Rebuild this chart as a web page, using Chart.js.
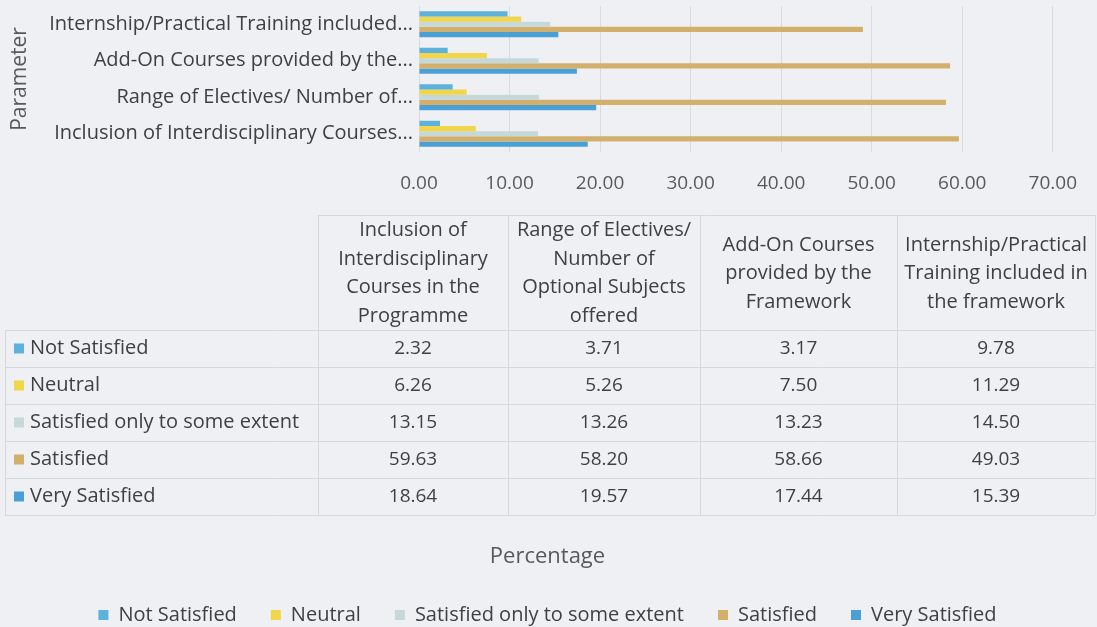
<!DOCTYPE html>
<html>
<head>
<meta charset="utf-8">
<script src="https://cdn.jsdelivr.net/npm/chart.js@4.4.1/dist/chart.umd.min.js"></script>
<style>
  html, body { margin: 0; padding: 0; background: #eff0f4; }
  #chart { display: block; }
</style>
</head>
<body>
<canvas id="chart" width="1097" height="627"></canvas>
<script>
// categories in the order of the data table (left to right)
const categories = [
  "Inclusion of Interdisciplinary Courses in the Programme",
  "Range of Electives/ Number of Optional Subjects offered",
  "Add-On Courses provided by the Framework",
  "Internship/Practical Training included in the framework"
];
// truncated labels as shown on the axis
const axisLabels = [
  "Inclusion of Interdisciplinary Courses...",
  "Range of Electives/ Number of...",
  "Add-On Courses provided by the...",
  "Internship/Practical Training included..."
];
// wrapped header text of the data table
const headerLines = [
  ["Inclusion of", "Interdisciplinary", "Courses in the", "Programme"],
  ["Range of Electives/", "Number of", "Optional Subjects", "offered"],
  ["Add-On Courses", "provided by the", "Framework"],
  ["Internship/Practical", "Training included in", "the framework"]
];

const seriesNames = ["Not Satisfied", "Neutral", "Satisfied only to some extent", "Satisfied", "Very Satisfied"];
const notSatisfied = [2.32, 3.71, 3.17, 9.78];
const neutral = [6.26, 5.26, 7.50, 11.29];
const someExtent = [13.15, 13.26, 13.23, 14.50];
const satisfied = [59.63, 58.20, 58.66, 49.03];
const verySatisfied = [18.64, 19.57, 17.44, 15.39];

const xMin = 0, xMax = 70, xStep = 10;

const colors = ["#5cb2dc", "#f1d64c", "#c6d9da", "#d3af6c", "#4a9fd5"];
const textColor = "#404040";
const fontFamily = "'Open Sans', sans-serif";

const seriesValues = [notSatisfied, neutral, someExtent, satisfied, verySatisfied];

// chart shows the last category on top
const topDown = arr => arr.slice().reverse();

const dataTable = {
  id: "dataTable",
  afterDraw(chart) {
    const ctx = chart.ctx;
    const cols = [318, 508, 700, 897, 1095];
    const left = 5;
    const headTop = 215, headBottom = 330;
    const rowH = 37;
    const bodyBottom = headBottom + rowH * seriesNames.length;

    ctx.save();
    ctx.strokeStyle = "#d6d8de";
    ctx.lineWidth = 1;
    ctx.beginPath();
    ctx.moveTo(cols[0], headTop + 0.5);
    ctx.lineTo(cols[4], headTop + 0.5);
    cols.forEach(x => {
      ctx.moveTo(x + 0.5, headTop);
      ctx.lineTo(x + 0.5, bodyBottom);
    });
    ctx.moveTo(left + 0.5, headBottom);
    ctx.lineTo(left + 0.5, bodyBottom);
    for (let r = 0; r <= seriesNames.length; r++) {
      const y = headBottom + r * rowH + 0.5;
      ctx.moveTo(left, y);
      ctx.lineTo(cols[4], y);
    }
    ctx.stroke();

    ctx.fillStyle = textColor;
    ctx.font = "20px " + fontFamily;
    ctx.textAlign = "center";
    ctx.textBaseline = "middle";

    // header text
    const lineH = 28.5;
    const headMid = (headTop + headBottom) / 2 + 1;
    headerLines.forEach((lines, c) => {
      const cx = (cols[c] + cols[c + 1]) / 2;
      const y0 = headMid - (lines.length - 1) * lineH / 2;
      lines.forEach((t, i) => ctx.fillText(t, cx, y0 + i * lineH));
    });

    // rows
    seriesNames.forEach((name, r) => {
      const cy = headBottom + r * rowH + rowH / 2;
      ctx.fillStyle = colors[r];
      ctx.fillRect(14, cy - 5, 10, 10);
      ctx.fillStyle = textColor;
      ctx.font = "20px " + fontFamily;
      ctx.textAlign = "left";
      ctx.fillText(name, 30, cy);
      ctx.textAlign = "center";
      ctx.font = "19px " + fontFamily;
      seriesValues[r].forEach((v, c) => {
        const cx = (cols[c] + cols[c + 1]) / 2;
        ctx.fillText(v.toFixed(2), cx, cy);
      });
    });
    ctx.restore();
  }
};

new Chart(document.getElementById("chart"), {
  type: "bar",
  data: {
    labels: topDown(categories),
    datasets: seriesNames.map((name, i) => ({
      label: name,
      data: topDown(seriesValues[i]),
      backgroundColor: colors[i],
      borderWidth: 0,
      barPercentage: 1,
      categoryPercentage: 0.71
    }))
  },
  options: {
    indexAxis: "y",
    responsive: false,
    animation: false,
    layout: { padding: { top: 6, left: 30, right: 32, bottom: -8 } },
    scales: {
      x: {
        min: xMin,
        max: xMax,
        ticks: {
          stepSize: xStep,
          padding: 20,
          color: "#595959",
          font: { family: fontFamily, size: 19 },
          callback: v => v.toFixed(2)
        },
        grid: { color: "#d9dade", drawTicks: false },
        border: { display: false },
        afterFit: s => { s.height = 387; }
      },
      y: {
        ticks: {
          padding: 6,
          color: textColor,
          font: { family: fontFamily, size: 20 },
          callback: (v, i) => topDown(axisLabels)[i]
        },
        grid: { display: false, drawTicks: false },
        border: { display: false },
        title: {
          display: true,
          text: "Parameter",
          color: "#595959",
          font: { family: fontFamily, size: 21 },
          padding: { top: -23, bottom: 0 }
        },
        afterFit: s => {
          s.width = 389;
          s.paddingTop = 0;
          s.paddingBottom = 0;
        }
      }
    },
    plugins: {
      title: {
        display: true,
        position: "bottom",
        weight: 500,
        text: "Percentage",
        color: "#595959",
        font: { family: fontFamily, size: 22, weight: "normal", lineHeight: 1 },
        padding: { top: 7, bottom: 3 }
      },
      legend: {
        position: "bottom",
        labels: {
          boxWidth: 10,
          boxHeight: 10,
          padding: 34,
          color: textColor,
          font: { family: fontFamily, size: 20 }
        }
      },
      tooltip: { enabled: false }
    }
  },
  plugins: [dataTable]
});
</script>
</body>
</html>
